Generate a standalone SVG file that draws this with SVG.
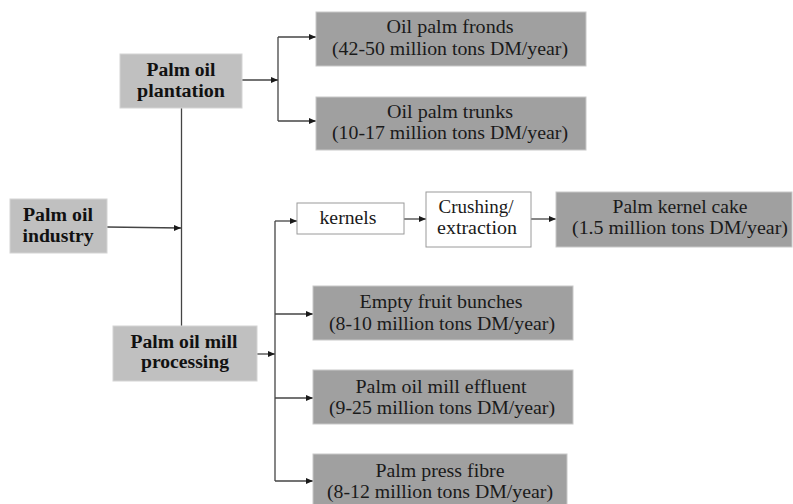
<svg xmlns="http://www.w3.org/2000/svg" width="793" height="504" viewBox="0 0 793 504" font-family="Liberation Serif, Times New Roman, serif">
<defs>
<marker id="ah" markerWidth="8" markerHeight="8" refX="7" refY="4" orient="auto" markerUnits="userSpaceOnUse">
<path d="M0,1 L7,4 L0,7 Z" fill="#1a1a1a"/>
</marker>
<style>
.src{fill:#c0c0c0;stroke:#d4d4d4;stroke-width:1}
.out{fill:#a0a0a0;stroke:#c8c8c8;stroke-width:1}
.wht{fill:#ffffff;stroke:#9a9a9a;stroke-width:1}
text{font-size:18px;text-anchor:middle}
.b{font-weight:bold;fill:#111}
.t{fill:#1a1a1a}
.c{fill:none;stroke:#444;stroke-width:1.3}
.ca{fill:none;stroke:#444;stroke-width:1.3;marker-end:url(#ah)}
</style>
</defs>
<rect width="793" height="504" fill="#ffffff"/>
<g id="connectors">
<path class="c" d="M181.5,108 V326"/>
<path class="ca" d="M107,227 L181,228"/>
<path class="ca" d="M242,80 H278"/>
<path class="c" d="M278,37 V121"/>
<path class="ca" d="M278,37 H316"/>
<path class="ca" d="M278,121 H316"/>
<path class="ca" d="M257,354 H275"/>
<path class="c" d="M275,221 V481"/>
<path class="ca" d="M275,221 H297"/>
<path class="ca" d="M275,314 H313"/>
<path class="ca" d="M275,398 H313"/>
<path class="ca" d="M275,481 H313"/>
<path class="ca" d="M404,219 H426"/>
<path class="ca" d="M531,219 H556"/>
</g>
<g id="plantation">
<rect class="src" x="120" y="54" width="122" height="54"/>
<text class="b" x="181" y="76" textLength="69" lengthAdjust="spacingAndGlyphs">Palm oil</text>
<text class="b" x="181" y="97" textLength="88" lengthAdjust="spacingAndGlyphs">plantation</text>
</g>
<g id="industry">
<rect class="src" x="10" y="199" width="97" height="54"/>
<text class="b" x="58" y="221" textLength="70" lengthAdjust="spacingAndGlyphs">Palm oil</text>
<text class="b" x="58" y="242" textLength="71" lengthAdjust="spacingAndGlyphs">industry</text>
</g>
<g id="mill">
<rect class="src" x="113" y="326" width="144" height="55"/>
<text class="b" x="184" y="348" textLength="107" lengthAdjust="spacingAndGlyphs">Palm oil mill</text>
<text class="b" x="185" y="368" textLength="88" lengthAdjust="spacingAndGlyphs">processing</text>
</g>
<g id="fronds">
<rect class="out" x="316" y="12" width="270" height="54"/>
<text class="t" x="450" y="33" textLength="127" lengthAdjust="spacingAndGlyphs">Oil palm fronds</text>
<text class="t" x="450" y="55" textLength="236" lengthAdjust="spacingAndGlyphs">(42-50 million tons DM/year)</text>
</g>
<g id="trunks">
<rect class="out" x="316" y="97" width="270" height="53"/>
<text class="t" x="450" y="118" textLength="126" lengthAdjust="spacingAndGlyphs">Oil palm trunks</text>
<text class="t" x="450" y="139" textLength="236" lengthAdjust="spacingAndGlyphs">(10-17 million tons DM/year)</text>
</g>
<g id="kernels">
<rect class="wht" x="297" y="203" width="107" height="31"/>
<text class="t" x="348" y="224" textLength="57" lengthAdjust="spacingAndGlyphs">kernels</text>
</g>
<g id="crushing">
<rect class="wht" x="426" y="192" width="105" height="55"/>
<text class="t" x="476" y="213" textLength="75" lengthAdjust="spacingAndGlyphs">Crushing/</text>
<text class="t" x="477" y="234" textLength="80" lengthAdjust="spacingAndGlyphs">extraction</text>
</g>
<g id="pkc">
<rect class="out" x="556" y="192" width="236" height="55"/>
<text class="t" x="680" y="213" textLength="135" lengthAdjust="spacingAndGlyphs">Palm kernel cake</text>
<text class="t" x="680" y="234" textLength="216" lengthAdjust="spacingAndGlyphs">(1.5 million tons DM/year)</text>
</g>
<g id="efb">
<rect class="out" x="313" y="286" width="260" height="54"/>
<text class="t" x="441" y="308" textLength="163" lengthAdjust="spacingAndGlyphs">Empty fruit bunches</text>
<text class="t" x="442" y="330" textLength="226" lengthAdjust="spacingAndGlyphs">(8-10 million tons DM/year)</text>
</g>
<g id="pome">
<rect class="out" x="313" y="370" width="260" height="54"/>
<text class="t" x="441" y="393" textLength="171" lengthAdjust="spacingAndGlyphs">Palm oil mill effluent</text>
<text class="t" x="442" y="414" textLength="226" lengthAdjust="spacingAndGlyphs">(9-25 million tons DM/year)</text>
</g>
<g id="fibre">
<rect class="out" x="313" y="454" width="254" height="54"/>
<text class="t" x="440" y="477" textLength="129" lengthAdjust="spacingAndGlyphs">Palm press fibre</text>
<text class="t" x="440" y="498" textLength="226" lengthAdjust="spacingAndGlyphs">(8-12 million tons DM/year)</text>
</g>
</svg>
